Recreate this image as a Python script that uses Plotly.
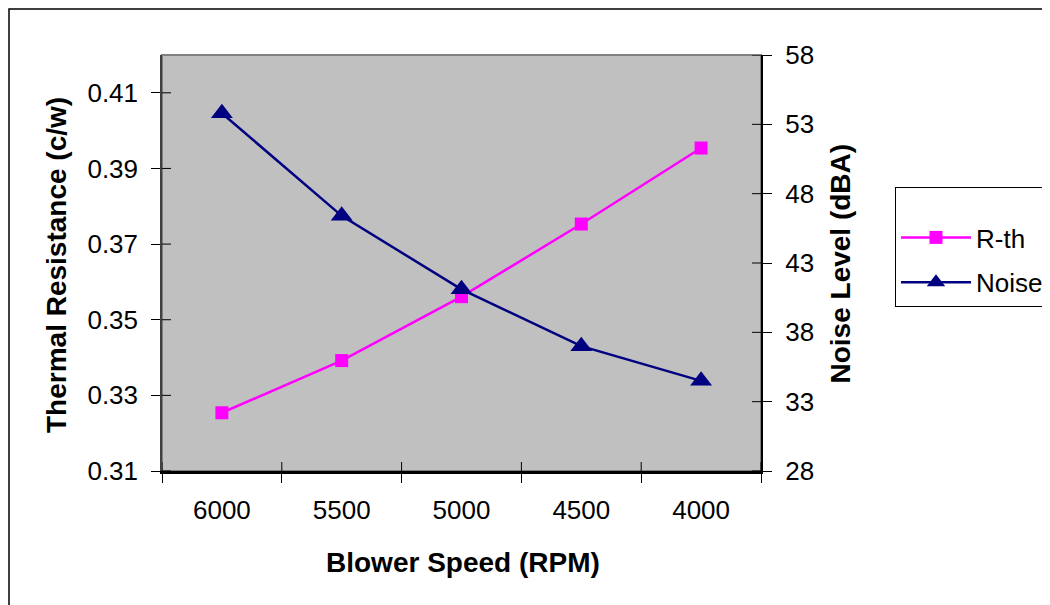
import plotly.graph_objects as go

categories = ["6000", "5500", "5000", "4500", "4000"]
rth = [0.3254, 0.3392, 0.3561, 0.3753, 0.3954]
noise = [53.8, 46.4, 41.1, 37.0, 34.5]
rth_ticks = [0.31, 0.33, 0.35, 0.37, 0.39, 0.41]
noise_ticks = [28, 33, 38, 43, 48, 53, 58]
boundaries = [-0.5, 0.5, 1.5, 2.5, 3.5, 4.5]

FONT = "Liberation Sans, Arial, sans-serif"
W, H = 1070, 597
L, R, T, B = 154, 1070 - 753, 47, 134
PW, PH = W - L - R, H - T - B
TICK = 9


def px(x):
    return (x - L) / PW


def py(y):
    return (H - B - y) / PH


fig = go.Figure()
fig.add_trace(go.Scatter(
    x=categories, y=rth, name="R-th", mode="lines+markers",
    legendgroup="a",
    line=dict(color="#FF00FF", width=2.5),
    marker=dict(symbol="square", size=13, color="#FF00FF"),
    yaxis="y"))
fig.add_trace(go.Scatter(
    x=categories, y=noise, name="Noise", mode="lines+markers",
    legendgroup="b",
    line=dict(color="#000080", width=2.5),
    marker=dict(symbol="triangle-up", size=19, color="#000080"),
    yaxis="y2"))

tick_common = dict(showgrid=False, zeroline=False, ticklen=TICK, tickcolor="black", tickwidth=1)

# inner halves of the crossing tick marks, placed through the axes' own scales
inner = []
for b in boundaries:
    inner.append(dict(type="line", xref="x", yref="paper", x0=b, x1=b, y0=0, y1=TICK / PH,
                      line=dict(color="black", width=1)))
for v in rth_ticks:
    inner.append(dict(type="line", xref="paper", yref="y", x0=0, x1=TICK / PW, y0=v, y1=v,
                      line=dict(color="black", width=1)))
for v in noise_ticks:
    inner.append(dict(type="line", xref="paper", yref="y2", x0=1 - TICK / PW, x1=1, y0=v, y1=v,
                      line=dict(color="black", width=1)))

fig.update_layout(
    width=W, height=H,
    margin=dict(l=L, r=R, t=T, b=B),
    paper_bgcolor="white", plot_bgcolor="#C0C0C0",
    font=dict(family=FONT, size=26, color="black"),
    showlegend=True,
    legend=dict(x=px(887), y=py(239), xanchor="left", yanchor="middle",
                bordercolor="black", borderwidth=1, bgcolor="white",
                font=dict(size=26), itemwidth=70, traceorder="grouped",
                tracegroupgap=8,
                title=dict(text="&nbsp;", font=dict(size=20))),
    xaxis=dict(type="category", range=[-0.5, 4.5],
               showline=True, linecolor="black", linewidth=2.5,
               ticks="outside", tickson="boundaries", ticklabelstandoff=14,
               **tick_common),
    yaxis=dict(range=[0.31, 0.42], tickvals=rth_ticks, tickformat=".2f",
               showline=True, linecolor="#404040", linewidth=1.5,
               ticks="outside", ticklabelstandoff=8, **tick_common),
    yaxis2=dict(range=[28, 58], tickvals=noise_ticks, overlaying="y", side="right",
                anchor="x", showline=True, linecolor="black", linewidth=2,
                ticks="outside", ticklabelstandoff=8, **tick_common),
    shapes=[
        dict(type="rect", xref="paper", yref="paper", x0=0, x1=1, y0=0, y1=1,
             line=dict(color="#808080", width=2), layer="below"),
        dict(type="rect", xref="paper", yref="paper",
             x0=px(1), x1=1.7, y0=py(1), y1=-0.7,
             line=dict(color="black", width=1.5)),
    ] + inner,
    annotations=[
        dict(text="<b>Thermal Resistance (c/w)</b>", xref="paper", yref="paper",
             x=px(48), y=py(257), textangle=-90,
             showarrow=False, font=dict(size=28), xanchor="center", yanchor="middle"),
        dict(text="<b>Noise Level (dBA)</b>", xref="paper", yref="paper",
             x=px(832), y=py(255.5), textangle=-90,
             showarrow=False, font=dict(size=28), xanchor="center", yanchor="middle"),
        dict(text="<b>Blower Speed (RPM)</b>", xref="paper", yref="paper",
             x=px(454.5), y=py(554),
             showarrow=False, font=dict(size=28), xanchor="center", yanchor="middle"),
    ],
)

fig.write_html("out.html")
